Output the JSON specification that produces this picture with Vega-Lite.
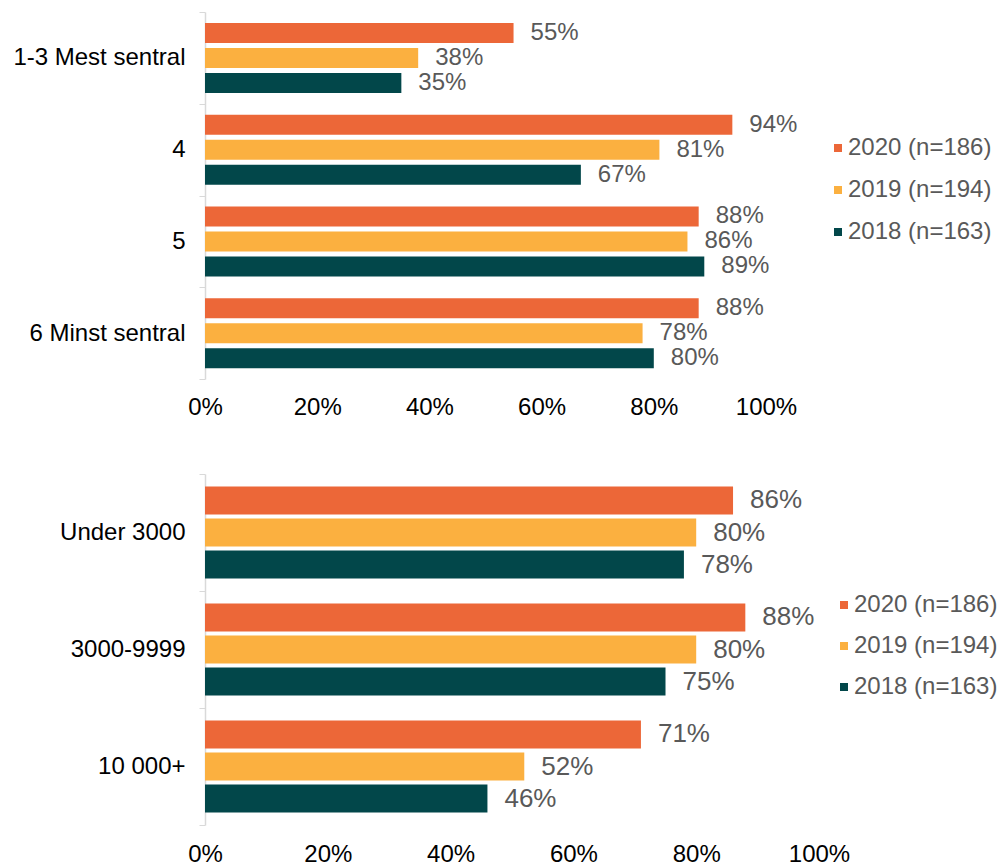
{
  "$schema": "https://vega.github.io/schema/vega-lite/v6.json",
  "background": "white",
  "padding": {"left": 12, "top": 0, "right": 5, "bottom": 5},
  "spacing": 43,
  "config": {
    "font": "Liberation Sans",
    "view": {"stroke": null},
    "axis": {"grid": false, "title": null}
  },
  "resolve": {
    "scale": {"color": "independent", "yOffset": "independent", "y": "independent", "x": "independent"},
    "legend": {"color": "independent"}
  },
  "vconcat": [
    {
      "width": 561,
      "height": 367,
      "data": {"values": [
        {"cat": "1-3 Mest sentral", "year": "2020 (n=186)", "v": 0.55},
        {"cat": "1-3 Mest sentral", "year": "2019 (n=194)", "v": 0.38},
        {"cat": "1-3 Mest sentral", "year": "2018 (n=163)", "v": 0.35},
        {"cat": "4", "year": "2020 (n=186)", "v": 0.94},
        {"cat": "4", "year": "2019 (n=194)", "v": 0.81},
        {"cat": "4", "year": "2018 (n=163)", "v": 0.67},
        {"cat": "5", "year": "2020 (n=186)", "v": 0.88},
        {"cat": "5", "year": "2019 (n=194)", "v": 0.86},
        {"cat": "5", "year": "2018 (n=163)", "v": 0.89},
        {"cat": "6 Minst sentral", "year": "2020 (n=186)", "v": 0.88},
        {"cat": "6 Minst sentral", "year": "2019 (n=194)", "v": 0.78},
        {"cat": "6 Minst sentral", "year": "2018 (n=163)", "v": 0.80}
      ]},
      "encoding": {
        "y": {"field": "cat", "type": "nominal", "sort": null,
              "scale": {"paddingInner": 0, "paddingOuter": 0},
              "axis": {"labelFontSize": 24, "labelColor": "#000000", "labelPadding": 14, "tickSize": 6,
                       "tickBand": "extent", "domainColor": "#d9d9d9", "tickColor": "#d9d9d9", "domainWidth": 1.5}},
        "yOffset": {"field": "year", "type": "nominal", "sort": ["2020 (n=186)", "2019 (n=194)", "2018 (n=163)"],
                    "scale": {"paddingInner": 0.2, "paddingOuter": 0.435}},
        "x": {"field": "v", "type": "quantitative", "scale": {"domain": [0, 1], "nice": false},
              "axis": {"format": ".0%", "values": [0, 0.2, 0.4, 0.6, 0.8, 1], "domain": false, "ticks": false,
                       "labelFontSize": 24, "labelColor": "#000000", "labelPadding": 16, "labelFlush": false}}
      },
      "layer": [
        {
          "mark": {"type": "bar"},
          "encoding": {
            "color": {"field": "year", "type": "nominal",
                      "scale": {"domain": ["2020 (n=186)", "2019 (n=194)", "2018 (n=163)"], "range": ["#EC6738", "#FBB040", "#02474A"]},
                      "legend": {"title": null, "orient": "none", "legendX": 621, "legendY": 124, "padding": 0,
                                 "symbolType": "square", "symbolSize": 64, "symbolStrokeWidth": 0, "labelFontSize": 24,
                                 "labelColor": "#595959", "labelLimit": 0, "rowPadding": 18, "labelOffset": -2}}
          }
        },
        {
          "mark": {"type": "text", "align": "left", "baseline": "middle", "dx": 17, "fontSize": 24, "color": "#595959"},
          "encoding": {"text": {"field": "v", "type": "quantitative", "format": ".0%"}}
        }
      ]
    },
    {
      "width": 614,
      "height": 351,
      "data": {"values": [
        {"cat": "Under 3000", "year": "2020 (n=186)", "v": 0.86},
        {"cat": "Under 3000", "year": "2019 (n=194)", "v": 0.80},
        {"cat": "Under 3000", "year": "2018 (n=163)", "v": 0.78},
        {"cat": "3000-9999", "year": "2020 (n=186)", "v": 0.88},
        {"cat": "3000-9999", "year": "2019 (n=194)", "v": 0.80},
        {"cat": "3000-9999", "year": "2018 (n=163)", "v": 0.75},
        {"cat": "10 000+", "year": "2020 (n=186)", "v": 0.71},
        {"cat": "10 000+", "year": "2019 (n=194)", "v": 0.52},
        {"cat": "10 000+", "year": "2018 (n=163)", "v": 0.46}
      ]},
      "encoding": {
        "y": {"field": "cat", "type": "nominal", "sort": null,
              "scale": {"paddingInner": 0, "paddingOuter": 0},
              "axis": {"labelFontSize": 24, "labelColor": "#000000", "labelPadding": 14, "tickSize": 6,
                       "tickBand": "extent", "domainColor": "#d9d9d9", "tickColor": "#d9d9d9", "domainWidth": 1.5}},
        "yOffset": {"field": "year", "type": "nominal", "sort": ["2020 (n=186)", "2019 (n=194)", "2018 (n=163)"],
                    "scale": {"paddingInner": 0.125, "paddingOuter": 0.39}},
        "x": {"field": "v", "type": "quantitative", "scale": {"domain": [0, 1], "nice": false},
              "axis": {"format": ".0%", "values": [0, 0.2, 0.4, 0.6, 0.8, 1], "domain": false, "ticks": false,
                       "labelFontSize": 24, "labelColor": "#000000", "labelPadding": 17, "labelFlush": false}}
      },
      "layer": [
        {
          "mark": {"type": "bar"},
          "encoding": {
            "color": {"field": "year", "type": "nominal",
                      "scale": {"domain": ["2020 (n=186)", "2019 (n=194)", "2018 (n=163)"], "range": ["#EC6738", "#FBB040", "#02474A"]},
                      "legend": {"title": null, "orient": "none", "legendX": 627, "legendY": 119, "padding": 0,
                                 "symbolType": "square", "symbolSize": 64, "symbolStrokeWidth": 0, "labelFontSize": 24,
                                 "labelColor": "#595959", "labelLimit": 0, "rowPadding": 17, "labelOffset": -2}}
          }
        },
        {
          "mark": {"type": "text", "align": "left", "baseline": "middle", "dx": 17, "fontSize": 26, "color": "#595959"},
          "encoding": {"text": {"field": "v", "type": "quantitative", "format": ".0%"}}
        }
      ]
    }
  ]
}
